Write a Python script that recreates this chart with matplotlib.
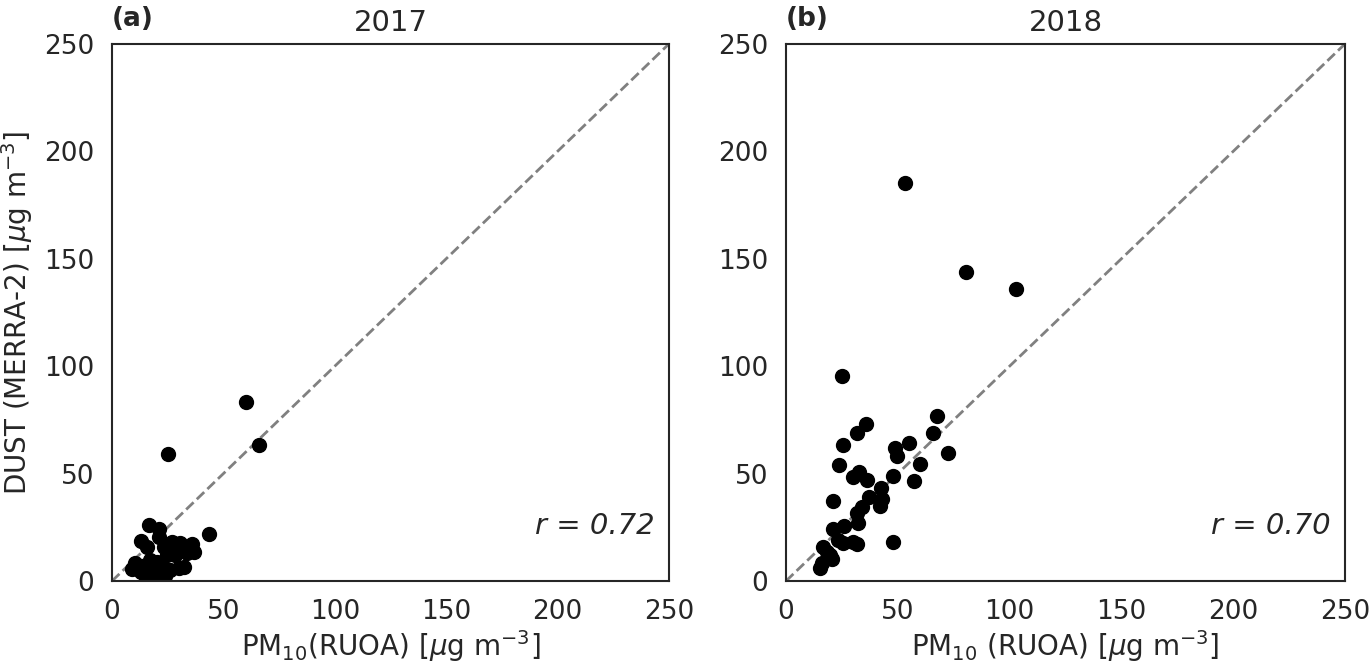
import matplotlib
matplotlib.use("Agg")
import matplotlib.pyplot as plt
import numpy as np
import seaborn as sns

sns.set_style("white")
plt.rcParams['font.family'] = ['DejaVu Sans']

# 2017 (RUOA PM10 vs MERRA-2 dust)
pm10_2017 = [25, 43.5, 60.3, 66.1, 16.5, 21, 21, 13.2, 27, 30.7, 36, 23.2, 15.7,
             28.5, 33.7, 36.7, 24.5, 10.5, 13.5, 18, 22.5, 30, 26.2, 15, 19.5,
             24, 9, 32.2, 12.8, 17, 20, 27.5, 34.3]
dust_2017 = [59, 21.7, 83.3, 63.3, 26, 24.2, 20.6, 18.6, 18, 17.5, 17, 16, 16,
             12.1, 12.9, 13.4, 12, 8.2, 7, 6, 7, 5.9, 5, 3, 2.5,
             2.5, 5.5, 6.6, 4, 10, 9, 14, 15]

# 2018
pm10_2018 = [53.2, 80.5, 102.9, 25.2, 67.4, 35.8, 31.6, 25.4, 55.2, 65.6, 72.6,
             48.9, 49.8, 59.9, 23.8, 32.8, 29.8, 36.4, 48, 57.4, 42.3, 37.3,
             42.8, 42, 21.2, 33.8, 31.6, 32.4, 26.1, 20.9, 25.6, 30.1, 31.9,
             23.4, 16.7, 19.7, 18.2, 16, 15.2, 20.4, 48]
dust_2018 = [185.1, 144, 135.8, 95.4, 76.8, 72.9, 69, 63.3, 64.1, 68.8, 59.7,
             61.8, 58.2, 54.3, 54, 50.9, 48.3, 47, 48.9, 46.7, 43.2, 39.3,
             38, 34.9, 37.2, 34.3, 31.5, 27.2, 25.6, 24, 17.8, 18.3, 17,
             19.1, 16, 12.1, 13.6, 8.2, 5.9, 10.1, 18.3]

years = ["2017", "2018"]
panel_tags = ["(a)", "(b)"]
r_values = ["0.72", "0.70"]
xlabels = [r"PM$_{10}$(RUOA) [$\mu$g m$^{-3}$]", r"PM$_{10}$ (RUOA) [$\mu$g m$^{-3}$]"]
ticks = [0, 50, 100, 150, 200, 250]

fig = plt.figure(figsize=(13.71, 6.66), dpi=100)
ax1 = fig.add_axes([0.0817, 0.1276, 0.4062, 0.8064])
ax2 = fig.add_axes([0.5733, 0.1276, 0.4077, 0.8064])

txt = "#262626"
for ax, xs, ys, yr, tag, r, xl in zip([ax1, ax2], [pm10_2017, pm10_2018],
                                      [dust_2017, dust_2018], years,
                                      panel_tags, r_values, xlabels):
    ax.plot([0, 250], [0, 250], ls="--", color="gray", lw=2, zorder=1)
    ax.scatter(xs, ys, s=100, color="black", zorder=2)
    ax.set_xlim(0, 250)
    ax.set_ylim(0, 250)
    ax.set_xticks(ticks)
    ax.set_yticks(ticks)
    ax.tick_params(labelsize=19, colors=txt, length=0, pad=13)
    ax.set_title(yr, fontsize=21, color=txt, pad=9)
    ax.text(0.0, 1.022, tag, transform=ax.transAxes, fontsize=19,
            fontweight="bold", ha="left", va="bottom")
    ax.text(0.975, 0.102, f"r = {r}", transform=ax.transAxes, fontsize=21,
            style="italic", ha="right", va="center", color=txt)
    ax.set_xlabel(xl, fontsize=20, color=txt, labelpad=2)
    for sp in ax.spines.values():
        sp.set_color(txt)
        sp.set_linewidth(1.5)

ax1.set_ylabel(r"DUST (MERRA-2) [$\mu$g m$^{-3}$]", fontsize=20, color=txt, labelpad=6)

fig.savefig("out.png", dpi=100)
